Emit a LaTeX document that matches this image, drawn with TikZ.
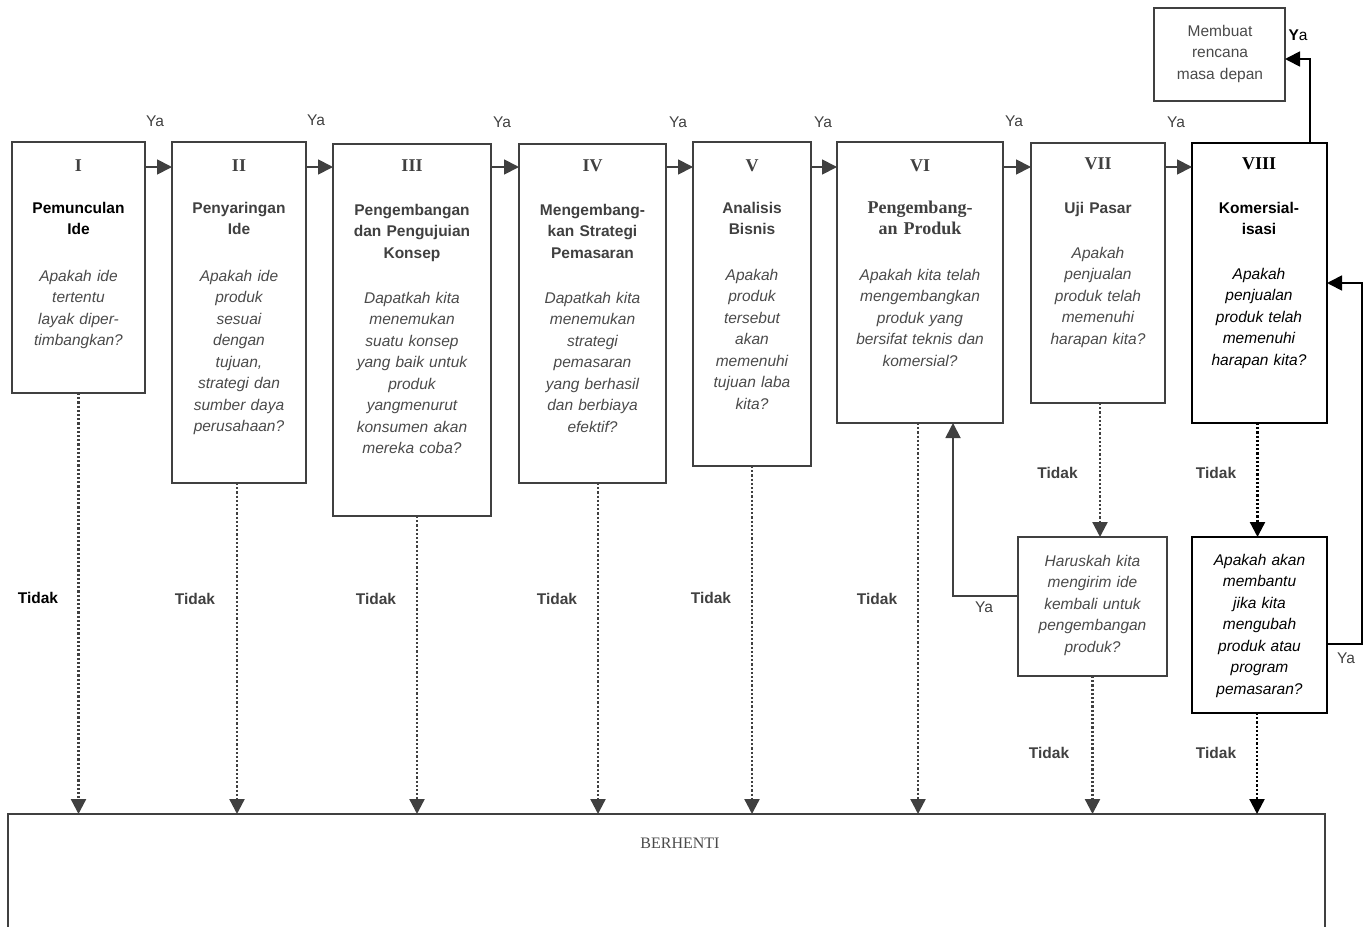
\documentclass[tikz,border=0pt]{standalone}
\usepackage{fontspec}
\setmainfont{Liberation Sans}
\newfontfamily\serif{Liberation Serif}
\usetikzlibrary{arrows.meta}
\definecolor{dg}{HTML}{404040}
\definecolor{tg}{HTML}{4a4a4a}
\tikzset{
  box/.style={draw=dg, line width=1.8pt, inner sep=0pt, outer sep=0pt, anchor=north west},
  num/.style={font=\serif\bfseries\fontsize{18}{21}\selectfont, text=dg, anchor=base, inner sep=0pt},
  ttl/.style={font=\bfseries\fontsize{15.5}{21.5}\selectfont, text=dg, align=center, text width=190pt, anchor=base, inner sep=0pt},
  sttl/.style={ttl, font=\serif\bfseries\fontsize{18}{21.5}\selectfont},
  que/.style={font=\itshape\fontsize{15.5}{21.5}\selectfont, text=tg, align=center, text width=190pt, anchor=base, inner sep=0pt},
  plain/.style={que, font=\fontsize{15.5}{21.5}\selectfont},
  lbl/.style={font=\fontsize{15.5}{18}\selectfont, text=dg, inner sep=0pt},
  tdk/.style={font=\bfseries\fontsize{15.5}{18}\selectfont, text=dg, inner sep=0pt},
  arr/.style={draw=dg, line width=1.8pt, -{Triangle[length=15pt,width=15pt]}},
  dotarr/.style={arr, line width=2.3pt, dash pattern=on 2.2pt off 2pt},
}
\begin{document}
\begin{tikzpicture}[x=1pt,y=-1pt]
\useasboundingbox (0,0) rectangle (1367,926);
% boxes
\node[box, minimum width=133pt, minimum height=251pt] (b1) at (12,142) {};
\node[box, minimum width=134pt, minimum height=341pt] (b2) at (172,142) {};
\node[box, minimum width=158pt, minimum height=372pt] (b3) at (333,144) {};
\node[box, minimum width=147pt, minimum height=339pt] (b4) at (519,144) {};
\node[box, minimum width=118pt, minimum height=324pt] (b5) at (693,142) {};
\node[box, minimum width=166pt, minimum height=281pt] (b6) at (837,142) {};
\node[box, minimum width=134pt, minimum height=260pt] (b7) at (1031,143) {};
\node[box, draw=black, minimum width=135pt, minimum height=280pt] (b8) at (1192,143) {};
\node[box, minimum width=131pt, minimum height=93pt] (m) at (1154,8) {};
\node[box, minimum width=149pt, minimum height=139pt] (h) at (1018,537) {};
\node[box, draw=black, minimum width=135pt, minimum height=176pt] (a) at (1192,537) {};
\node[box, minimum width=1317pt, minimum height=140pt] (stop) at (8,814) {};
% box texts
\node[num] (n1) at (78.5,171) {I};
\node[ttl, text=black] (t1) at (78.5,213) {Pemunculan\\Ide};
\node[que] (q1) at (78.5,281) {Apakah ide\\tertentu\\layak diper-\\timbangkan?};
\node[num] (n2) at (239,171) {II};
\node[ttl] (t2) at (239,213) {Penyaringan\\Ide};
\node[que] (q2) at (239,281) {Apakah ide\\produk\\sesuai\\dengan\\tujuan,\\strategi dan\\sumber daya\\perusahaan?};
\node[num] (n3) at (412,171) {III};
\node[ttl] (t3) at (412,215) {Pengembangan\\dan Pengujuian\\Konsep};
\node[que] (q3) at (412,303) {Dapatkah kita\\menemukan\\suatu konsep\\yang baik untuk\\produk\\yangmenurut\\konsumen akan\\mereka coba?};
\node[num] (n4) at (592.5,171) {IV};
\node[ttl] (t4) at (592.5,215) {Mengembang-\\kan Strategi\\Pemasaran};
\node[que] (q4) at (592.5,303) {Dapatkah kita\\menemukan\\strategi\\pemasaran\\yang berhasil\\dan berbiaya\\efektif?};
\node[num] (n5) at (752,171) {V};
\node[ttl] (t5) at (752,213) {Analisis\\Bisnis};
\node[que] (q5) at (752,280) {Apakah\\produk\\tersebut\\akan\\memenuhi\\tujuan laba\\kita?};
\node[num] (n6) at (920,171) {VI};
\node[sttl] (t6) at (920,213) {Pengembang-\\an Produk};
\node[que] (q6) at (920,280) {Apakah kita telah\\mengembangkan\\produk yang\\bersifat teknis dan\\komersial?};
\node[num] (n7) at (1098,169) {VII};
\node[ttl] (t7) at (1098,213) {Uji Pasar};
\node[que] (q7) at (1098,258) {Apakah\\penjualan\\produk telah\\memenuhi\\harapan kita?};
\node[num, text=black] (n8) at (1259,169) {VIII};
\node[ttl, text=black] (t8) at (1259,213) {Komersial-\\isasi};
\node[que, text=black] (q8) at (1259,279) {Apakah\\penjualan\\produk telah\\memenuhi\\harapan kita?};
\node[plain] (mt) at (1220,36) {Membuat\\rencana\\masa depan};
\node[que] (ht) at (1092.5,566) {Haruskah kita\\mengirim ide\\kembali untuk\\pengembangan\\produk?};
\node[que, text=black] (at) at (1259.5,565) {Apakah akan\\membantu\\jika kita\\mengubah\\produk atau\\program\\pemasaran?};
\node[font=\serif\fontsize{16}{19}\selectfont, text=tg, anchor=base, inner sep=0pt] (st) at (680,848) {BERHENTI};
% Ya arrows between stages
\coordinate (ya) at (0,167);
\draw[arr] (b1.east |- ya) -- (b2.west |- ya);
\draw[arr] (b2.east |- ya) -- (b3.west |- ya);
\draw[arr] (b3.east |- ya) -- (b4.west |- ya);
\draw[arr] (b4.east |- ya) -- (b5.west |- ya);
\draw[arr] (b5.east |- ya) -- (b6.west |- ya);
\draw[arr] (b6.east |- ya) -- (b7.west |- ya);
\draw[arr] (b7.east |- ya) -- (b8.west |- ya);
\node[lbl] (y1) at (155,121) {Ya};
\node[lbl] (y2) at (316,120) {Ya};
\node[lbl] (y3) at (502,122) {Ya};
\node[lbl] (y4) at (678,122) {Ya};
\node[lbl] (y5) at (823,122) {Ya};
\node[lbl] (y6) at (1014,121) {Ya};
\node[lbl] (y7) at (1176,122) {Ya};
% Komersialisasi -> Membuat rencana
\coordinate (k1) at (1310,59);
\draw[arr, draw=black] (b8.north -| k1) -- (k1) -- (m.east |- k1);
\node[lbl, text=black] (y8) at (1298,35) {\textbf{Y}a};
% Tidak dotted arrows to BERHENTI
\draw[dotarr] (b1.south) -- (b1.south |- stop.north);
\draw[dotarr] ([xshift=-2pt]b2.south) -- ([xshift=-2pt]b2.south |- stop.north);
\draw[dotarr] ([xshift=5pt]b3.south) -- ([xshift=5pt]b3.south |- stop.north);
\draw[dotarr] ([xshift=5.5pt]b4.south) -- ([xshift=5.5pt]b4.south |- stop.north);
\draw[dotarr] (b5.south) -- (b5.south |- stop.north);
\draw[dotarr] ([xshift=-2pt]b6.south) -- ([xshift=-2pt]b6.south |- stop.north);
\draw[dotarr] ([xshift=2pt]b7.south) -- ([xshift=2pt]b7.south |- h.north);
\draw[dotarr, draw=black] ([xshift=-2pt]b8.south) -- ([xshift=-2pt]b8.south |- a.north);
\draw[dotarr] (h.south) -- (h.south |- stop.north);
\draw[dotarr, draw=black] ([xshift=-2.5pt]a.south) -- ([xshift=-2.5pt]a.south |- stop.north);
\node[tdk, text=black] (d1) at (38,598) {Tidak};
\node[tdk] (d2) at (195,599) {Tidak};
\node[tdk] (d3) at (376,599) {Tidak};
\node[tdk] (d4) at (557,599) {Tidak};
\node[tdk] (d5) at (711,598) {Tidak};
\node[tdk] (d6) at (877,599) {Tidak};
\node[tdk] (d7) at (1057.5,473) {Tidak};
\node[tdk] (d8) at (1216,473) {Tidak};
\node[tdk] (d9) at (1049,753) {Tidak};
\node[tdk] (d10) at (1216,753) {Tidak};
% Ya loops
\coordinate (l1) at (953,596);
\draw[arr] (h.west |- l1) -- (l1) -- (l1 |- b6.south);
\node[lbl] (y9) at (984,607) {Ya};
\coordinate (l2) at (1362,644);
\coordinate (l3) at (1362,283);
\draw[arr, draw=black] (a.east |- l2) -- (l2) -- (l3) -- (b8.east |- l3);
\node[lbl] (y10) at (1346,658) {Ya};
\end{tikzpicture}
\end{document}
